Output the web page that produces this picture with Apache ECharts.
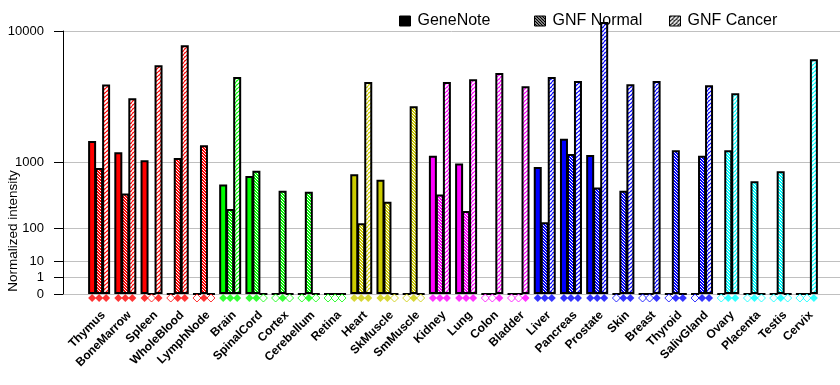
<!DOCTYPE html>
<html><head><meta charset="utf-8">
<script src="https://cdn.jsdelivr.net/npm/echarts@6/dist/echarts.min.js"></script>
<style>html,body{margin:0;padding:0;background:#fff}#c{width:840px;height:385px}</style>
</head><body><div id="c"></div>
<script>
const categories = ['Thymus','BoneMarrow','Spleen','WholeBlood','LymphNode','Brain','SpinalCord','Cortex','Cerebellum','Retina','Heart','SkMuscle','SmMuscle','Kidney','Lung','Colon','Bladder','Liver','Pancreas','Prostate','Skin','Breast','Thyroid','SalivGland','Ovary','Placenta','Testis','Cervix'];
const geneNote  = [1650,1285,1060,0,0,545,700,0,0,0,735,625,0,1180,975,0,0,893,1740,1205,0,0,0,0,0,0,0,0];
const gnfNormal = [870,410,0,1120,1510,234,804,447,433,0,127,307,3260,397,216,0,0,133,1230,497,447,0,1345,1180,1345,600,797,0];
const gnfCancer = [4690,3750,6280,8320,0,5280,0,0,0,0,4880,0,0,4880,5100,5600,4560,5280,4960,11180,4710,4960,0,4640,4070,0,0,6850];
const geneNoteCall = [1,1,1,0,0,1,1,0,0,0,1,1,0,1,1,0,0,1,1,1,0,0,0,0,0,0,0,0];
const normalCall   = [1,1,0,1,1,1,1,1,1,0,1,1,1,1,1,0,0,1,1,1,1,0,1,1,1,1,1,0];
const cancerCall   = [1,1,1,1,0,1,0,0,0,0,1,0,0,1,1,1,1,1,1,1,1,1,1,1,1,0,0,1];
const yTickLabels = [0,1,10,100,1000,10000];
const seriesNames = ['GeneNote','GNF Normal','GNF Cancer'];
const yAxisName = 'Normalized intensity';

// styles
const tissueColors = [].concat(
  Array(5).fill('#FF0000'), Array(5).fill('#00FF00'), Array(3).fill('#CCCC00'),
  Array(4).fill('#FF00FF'), Array(7).fill('#0000FF'), Array(4).fill('#00FFFF'));

const EXP = Math.log10(2);
const tr = v => Math.pow(v, EXP);
const yTickPos = yTickLabels.map(tr);

function stripe(color, dir, size, lw) {
  const c = document.createElement('canvas');
  c.width = c.height = size;
  const g = c.getContext('2d');
  g.fillStyle = color; g.fillRect(0, 0, size, size);
  g.strokeStyle = '#fff'; g.lineWidth = lw;
  g.beginPath();
  for (let k = -1; k <= 1; k++) {
    if (dir === '/') { g.moveTo(k * size, size); g.lineTo(k * size + size, 0); }
    else { g.moveTo(k * size, 0); g.lineTo(k * size + size, size); }
  }
  g.stroke();
  return {image: c, repeat: 'repeat'};
}
const fills = [
  c => c,
  c => stripe(c, '\\', 3, 1),
  c => stripe(c, '/', 4, 1.8)
];
const values = [geneNote, gnfNormal, gnfCancer];
const calls = [geneNoteCall, normalCall, cancerCall];
const offsets = [-7, 0, 7];
const legendLeft = [399, 534, 669];

const series = [];
values.forEach((arr, s) => {
  series.push({
    name: seriesNames[s], type: 'bar', xAxisIndex: 1, yAxisIndex: 1,
    barWidth: 8, barGap: '-12.5%', clip: false,
    itemStyle: {borderColor: '#000', borderWidth: 2, color: s === 0 ? '#000' : fills[s]('#000')},
    data: arr.map((v, i) => ({value: tr(v), itemStyle: {color: fills[s](tissueColors[i])}}))
  });
});
calls.forEach((arr, s) => {
  series.push({
    name: 'call' + s, type: 'scatter', xAxisIndex: 2, yAxisIndex: 2,
    symbol: 'diamond', symbolSize: 8, symbolOffset: [offsets[s], 0], silent: true,
    data: arr.map((p, i) => ({value: [i, 0.5], itemStyle: p ? {color: tissueColors[i], borderWidth: 0}
      : {color: '#fff', borderColor: tissueColors[i], borderWidth: 1}}))
  });
});

const font = 'Liberation Sans, Arial, sans-serif';
const chart = echarts.init(document.getElementById('c'), null, {renderer: 'canvas'});
chart.setOption({
  animation: false,
  backgroundColor: '#fff',
  textStyle: {fontFamily: font},
  legend: seriesNames.map((n, i) => ({
    data: [{name: n, itemStyle: {color: i === 0 ? '#000' : fills[i]('#000'), borderColor: '#000', borderWidth: 1}}],
    left: legendLeft[i], top: 13, padding: 0, itemWidth: 11, itemHeight: 10, icon: 'rect',
    selectedMode: false,
    textStyle: {fontSize: 16, fontFamily: font, color: '#000', padding: [0, 0, 0, 2]}
  })),
  graphic: [{
    type: 'text', x: 13, y: 231, rotation: Math.PI / 2,
    style: {text: yAxisName, fontSize: 13.5, fontFamily: font, fill: '#000', align: 'center', verticalAlign: 'middle'}
  }],
  grid: [
    {left: 63, right: 0, top: 31, bottom: 91},
    {left: 86, right: 20, top: 31, bottom: 91},
    {left: 86, right: 20, top: 293, height: 10}
  ],
  xAxis: [
    {gridIndex: 0, type: 'value', min: 0, max: 1, show: false},
    {gridIndex: 1, type: 'category', data: categories,
      axisLine: {show: false}, axisTick: {show: false},
      axisLabel: {rotate: 45, margin: 15, interval: 0, fontSize: 12, fontWeight: 'bold', color: '#000',
        fontFamily: font, verticalAlign: 'top'}},
    {gridIndex: 2, type: 'category', data: categories, show: false}
  ],
  yAxis: [
    {gridIndex: 0, type: 'value', min: 0, max: 16,
      axisLine: {show: true, lineStyle: {color: '#000', width: 1}},
      axisTick: {show: true, length: 9, customValues: yTickPos, lineStyle: {color: '#000'}},
      axisLabel: {customValues: yTickPos, margin: 19, fontSize: 13, color: '#000', fontFamily: font,
        formatter: v => {
          let best = 0;
          yTickPos.forEach((p, i) => { if (Math.abs(p - v) < Math.abs(yTickPos[best] - v)) best = i; });
          return String(yTickLabels[best]);
        }},
      splitLine: {show: true, lineStyle: {color: '#c0c0c0', width: 1}}},
    {gridIndex: 1, type: 'value', min: 0, max: 16, show: false, splitLine: {show: false}},
    {gridIndex: 2, type: 'value', min: 0, max: 1, show: false, splitLine: {show: false}}
  ],
  series: series
});
</script></body></html>
